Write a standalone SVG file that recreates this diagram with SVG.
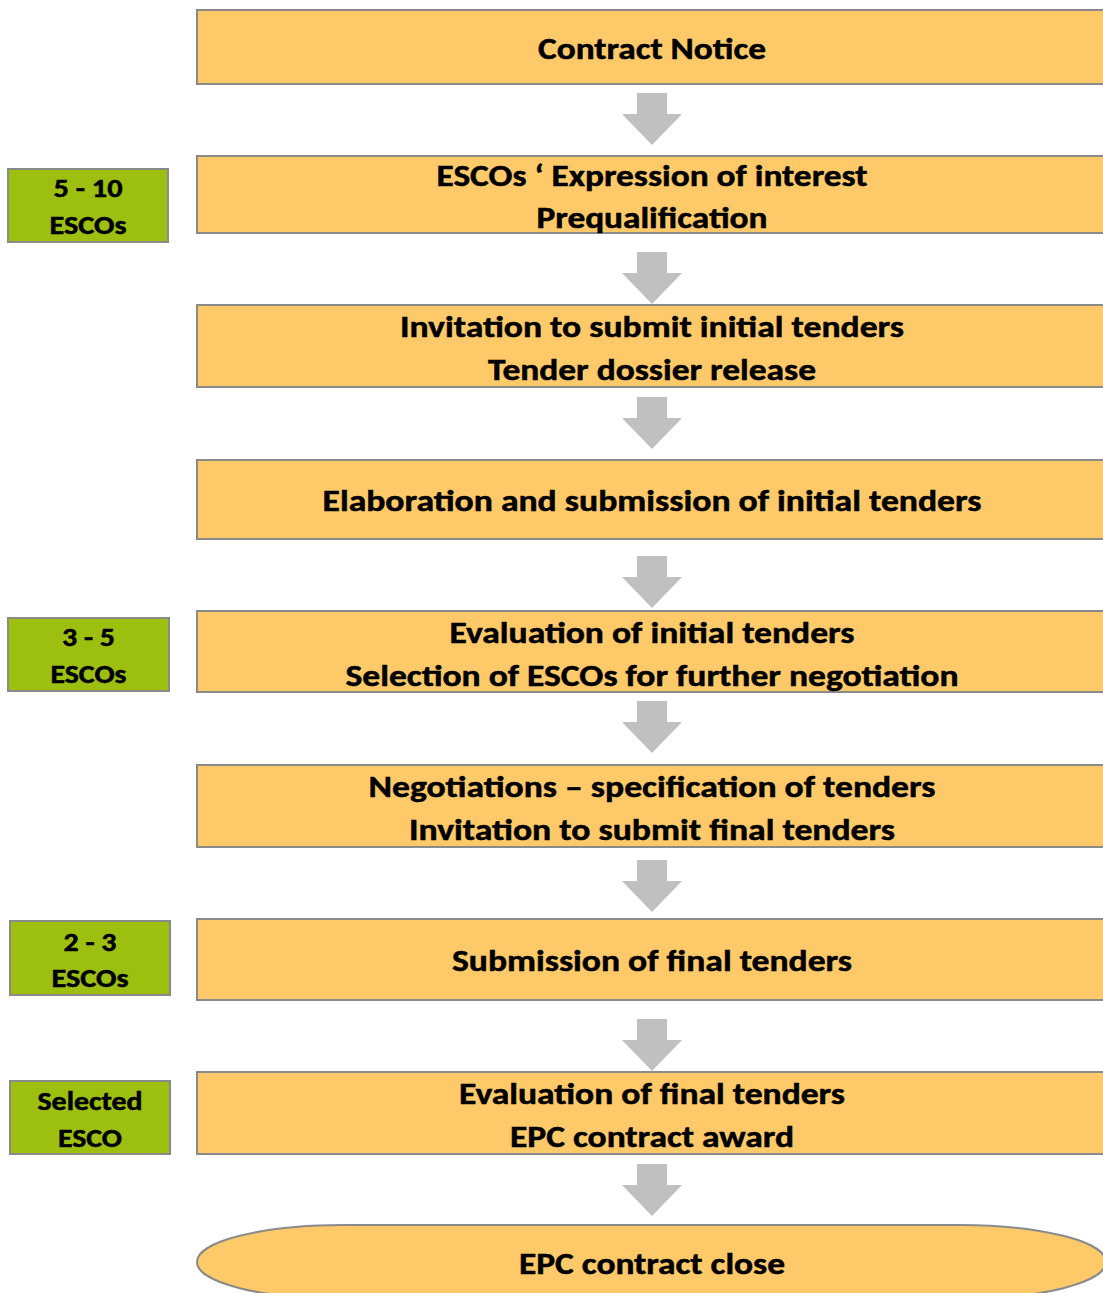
<svg xmlns="http://www.w3.org/2000/svg" width="1103" height="1293" viewBox="0 0 1103 1293">
  <style>
    .step { fill: #FECA69; stroke: #8A8A8A; stroke-width: 2; }
    .count { fill: #9DBF10; stroke: #8A8A8A; stroke-width: 2; }
    .arrow { fill: #C0C0C0; stroke: none; }
    text { font-family: Carlito, "Liberation Sans", Arial, sans-serif; font-weight: bold; fill: #000; stroke: #000; stroke-width: 0.5; text-anchor: middle; }
    .main { font-size: 31px; }
    .side { font-size: 26px; }
  </style>
  <defs>
    <path id="down" class="arrow" d="M-15,0 H15 V21 H30 L0,52 L-30,21 H-15 Z"/>
  </defs>

  <rect width="1103" height="1293" fill="#FFFFFF"/>

  <!-- connectors: block arrows between steps -->
  <g id="connectors">
    <use href="#down" x="652" y="93"/>
    <use href="#down" x="652" y="252"/>
    <use href="#down" x="652" y="397"/>
    <use href="#down" x="652" y="556"/>
    <use href="#down" x="652" y="701"/>
    <use href="#down" x="652" y="860"/>
    <use href="#down" x="652" y="1019"/>
    <use href="#down" x="652" y="1164"/>
  </g>

  <!-- process steps -->
  <g id="contract-notice">
    <rect class="step" x="197" y="10" width="910" height="74"/>
    <text class="main" x="652" y="59" textLength="228" lengthAdjust="spacingAndGlyphs">Contract Notice</text>
  </g>
  <g id="expression-of-interest">
    <rect class="step" x="197" y="156" width="910" height="77"/>
    <text class="main" x="652" y="185.5" textLength="431" lengthAdjust="spacingAndGlyphs">ESCOs ‘ Expression of interest</text>
    <text class="main" x="652" y="228" textLength="231" lengthAdjust="spacingAndGlyphs">Prequalification</text>
  </g>
  <g id="invitation-initial">
    <rect class="step" x="197" y="305" width="910" height="82"/>
    <text class="main" x="652" y="336.5" textLength="504" lengthAdjust="spacingAndGlyphs">Invitation to submit initial tenders</text>
    <text class="main" x="652" y="379.5" textLength="328" lengthAdjust="spacingAndGlyphs">Tender dossier release</text>
  </g>
  <g id="elaboration">
    <rect class="step" x="197" y="460" width="910" height="79"/>
    <text class="main" x="652" y="511" textLength="659" lengthAdjust="spacingAndGlyphs">Elaboration and submission of initial tenders</text>
  </g>
  <g id="evaluation-initial">
    <rect class="step" x="197" y="611" width="910" height="81"/>
    <text class="main" x="652" y="642.5" textLength="405" lengthAdjust="spacingAndGlyphs">Evaluation of initial tenders</text>
    <text class="main" x="652" y="685.5" textLength="613" lengthAdjust="spacingAndGlyphs">Selection of ESCOs for further negotiation</text>
  </g>
  <g id="negotiations">
    <rect class="step" x="197" y="765" width="910" height="82"/>
    <text class="main" x="652" y="796.5" textLength="567" lengthAdjust="spacingAndGlyphs">Negotiations – specification of tenders</text>
    <text class="main" x="652" y="839.5" textLength="486" lengthAdjust="spacingAndGlyphs">Invitation to submit final tenders</text>
  </g>
  <g id="submission-final">
    <rect class="step" x="197" y="919" width="910" height="81"/>
    <text class="main" x="652" y="971" textLength="400" lengthAdjust="spacingAndGlyphs">Submission of final tenders</text>
  </g>
  <g id="evaluation-final">
    <rect class="step" x="197" y="1072" width="910" height="82"/>
    <text class="main" x="652" y="1103.5" textLength="386" lengthAdjust="spacingAndGlyphs">Evaluation of final tenders</text>
    <text class="main" x="652" y="1146.5" textLength="284" lengthAdjust="spacingAndGlyphs">EPC contract award</text>
  </g>
  <g id="contract-close">
    <path class="step" d="M343,1225 H960 A146,37 0 0 1 960,1299 H343 A146,37 0 0 1 343,1225 Z"/>
    <text class="main" x="652" y="1274" textLength="266" lengthAdjust="spacingAndGlyphs">EPC contract close</text>
  </g>

  <!-- number of bidders at each stage -->
  <g id="escos-5-10">
    <rect class="count" x="8" y="169" width="160" height="73"/>
    <text class="side" x="88" y="196.5" textLength="69" lengthAdjust="spacingAndGlyphs">5 - 10</text>
    <text class="side" x="88" y="234" textLength="77" lengthAdjust="spacingAndGlyphs">ESCOs</text>
  </g>
  <g id="escos-3-5">
    <rect class="count" x="8" y="618" width="161" height="73"/>
    <text class="side" x="88.5" y="646" textLength="53" lengthAdjust="spacingAndGlyphs">3 - 5</text>
    <text class="side" x="88.5" y="683" textLength="76" lengthAdjust="spacingAndGlyphs">ESCOs</text>
  </g>
  <g id="escos-2-3">
    <rect class="count" x="10" y="921" width="160" height="74"/>
    <text class="side" x="90" y="950.5" textLength="53" lengthAdjust="spacingAndGlyphs">2 - 3</text>
    <text class="side" x="90" y="987" textLength="77" lengthAdjust="spacingAndGlyphs">ESCOs</text>
  </g>
  <g id="selected-esco">
    <rect class="count" x="10" y="1081" width="160" height="73"/>
    <text class="side" x="90" y="1109.5" textLength="105" lengthAdjust="spacingAndGlyphs">Selected</text>
    <text class="side" x="90" y="1146.5" textLength="64" lengthAdjust="spacingAndGlyphs">ESCO</text>
  </g>
</svg>
